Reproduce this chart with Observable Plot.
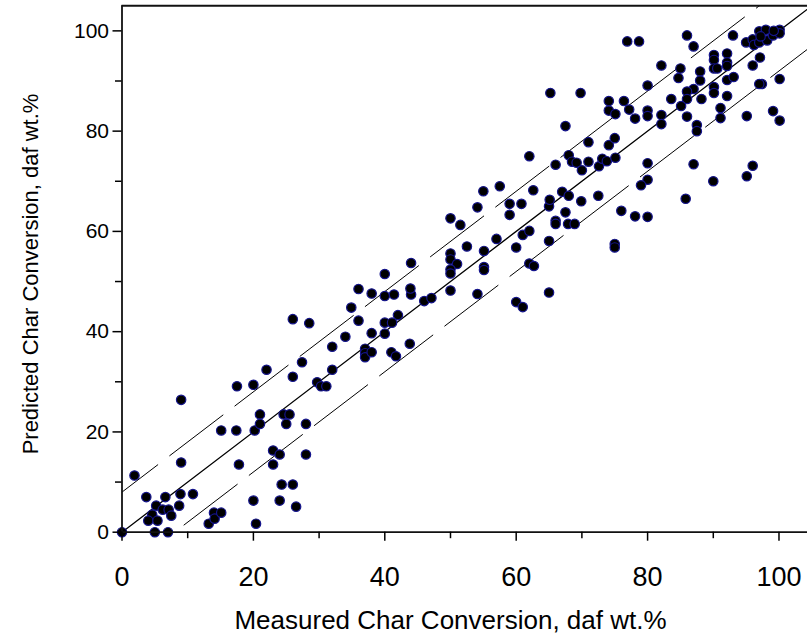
<!DOCTYPE html>
<html>
<head>
<meta charset="utf-8">
<script src="https://cdn.jsdelivr.net/npm/d3@7"></script>
<script src="https://cdn.jsdelivr.net/npm/@observablehq/plot@0.6"></script>
<style>
  html, body { margin: 0; padding: 0; background: #fff; overflow: hidden; }
  #chart svg { display: block; }
</style>
</head>
<body>
<div id="chart"></div>
<script>
// Measured (x) and predicted (y) char conversion, daf wt.%
const measured = [
  0,1.9,3.7,6.6,5.2,6.2,7.1,4.6,4.0,5.4,7.5,8.7,8.9,10.8,5.0,7.0,9.0,9.0,13.2,14.0,14.1,15.1,15.1,17.4,17.5,20.0,17.8,20.2,21.0,21.0,20.0,20.4,23.0,24.0,23.0,24.3,26.0,24.0,26.5,24.6,25.5,25.0,28.0,28.0,29.7,30.3,31.1,
  22.0,26.0,27.4,26.0,28.5,32.0,32.0,34.0,34.9,36.0,36.0,38.0,40.0,41.4,44.0,42.0,40.0,41.1,38.0,40.0,37.0,37.0,37.0,38.0,41.0,41.7,43.8,40.0,44.0,43.9,46.0,47.1,
  50.0,50.0,51.5,54.1,52.5,50.0,50.0,51.0,50.0,50.0,54.1,55.0,57.5,55.1,55.1,55.1,57.0,59.0,60.8,59.0,60.0,61.0,62.0,62.0,62.7,60.0,61.0,62.6,62.0,65.0,65.0,65.0,66.0,66.0,67.5,67.9,68.9,69.9,65.1,67.0,68.0,
  65.2,69.8,67.5,66.0,68.0,68.5,69.2,70.0,71.0,71.0,72.6,73.1,73.8,74.1,75.0,75.1,74.1,74.1,76.4,75.1,77.2,78.1,80.0,80.0,82.1,82.1,80.0,80.0,79.0,76.0,78.1,80.0,75.0,75.0,72.5,
  76.9,78.7,86.0,87.0,93.0,95.0,96.0,96.2,97.0,97.0,98.0,98.2,99.1,100.1,100.1,97.2,99.2,97.1,96.0,90.1,90.1,90.1,90.6,92.1,92.1,92.1,88.0,88.0,85.0,84.7,82.1,80.0,92.1,93.1,90.1,90.1,87.0,86.0,86.0,88.2,83.6,85.1,86.0,92.1,91.1,91.1,87.5,87.5,97.4,97.0,100.1,95.1,99.1,100.1,87.0,90.0,95.1,96.0,85.8
];
const predicted = [
  0,11.3,7.0,7.0,5.3,4.5,4.5,3.5,2.3,2.3,3.3,5.3,7.6,7.6,0,0,26.4,13.9,1.7,3.9,2.7,3.9,20.3,20.3,29.1,29.4,13.5,20.3,23.5,21.6,6.3,1.7,16.3,15.5,13.5,9.5,9.5,6.3,5.1,23.5,23.5,21.6,21.6,15.5,29.9,29.1,29.1,
  32.4,31.0,33.9,42.5,41.7,32.4,37.0,39.0,44.8,48.5,42.2,47.6,47.1,47.4,47.4,43.3,41.8,41.8,39.7,39.6,36.6,35.7,34.9,35.9,35.9,35.1,37.6,51.5,53.7,48.6,46.1,46.7,
  48.2,62.6,61.3,64.8,57.0,55.6,54.4,53.5,52.4,51.6,47.5,68.0,69.0,56.1,52.9,52.3,58.5,65.5,65.5,63.3,56.8,59.3,60.1,53.6,53.1,45.9,44.9,68.2,75.0,65.0,58.1,47.8,62.1,61.5,63.8,61.5,61.5,66.0,66.3,67.9,67.1,
  87.6,87.6,81.0,73.3,75.2,73.9,73.7,72.2,77.8,73.9,73.0,74.5,74.0,77.2,78.6,74.7,86.0,84.1,86.0,83.4,84.3,82.5,84.1,83.0,83.2,81.4,73.6,70.3,69.2,64.1,63.0,62.9,57.5,56.8,67.1,
  97.9,97.9,99.1,96.9,99.1,97.7,98.3,97.2,99.9,97.7,100.2,98.1,99.1,100.2,99.5,98.9,100.0,94.7,93.1,95.2,94.2,92.5,92.5,95.5,93.7,93.0,91.9,90.1,92.5,90.6,93.1,89.1,90.2,90.8,88.8,87.6,88.4,87.9,86.4,86.4,86.4,85.0,82.9,87.0,84.6,82.6,81.2,80.0,89.4,89.4,90.4,83.0,84.0,82.1,73.4,70.0,71.0,73.1,66.5
];
const xMajor = [0, 20, 40, 60, 80, 100];
const xMinor = [10, 30, 50, 70, 90];
const yMajor = [0, 20, 40, 60, 80, 100];
const yMinor = [10, 30, 50, 70, 90];
const lineX = [0, 105];
const band = 8;
const xTitle = "Measured Char Conversion, daf wt.%";
const yTitle = "Predicted Char Conversion, daf wt.%";

const points = measured.map((m, i) => ({m, p: predicted[i]}));
const parity = lineX.map(v => ({x: v, y: v}));
const upper = lineX.map(v => ({x: v, y: v + band}));
const lower = lineX.map(v => ({x: v, y: v - band}));

const font = "'Liberation Sans', Arial, Helvetica, sans-serif";

const chart = Plot.plot({
  width: 807,
  height: 637,
  marginLeft: 121.5,
  marginRight: 0,
  marginTop: 5.3,
  marginBottom: 105.3,
  style: {fontFamily: font, color: "#000", background: "#fff", overflow: "visible"},
  x: {domain: [0, 104.34]},
  y: {domain: [0, 105]},
  marks: [
    Plot.line(parity, {x: "x", y: "y", stroke: "#000", strokeWidth: 1.3, clip: true}),
    Plot.line(upper, {x: "x", y: "y", stroke: "#000", strokeWidth: 1, strokeDasharray: "67,15", strokeDashoffset: 22, clip: true}),
    Plot.line(lower, {x: "x", y: "y", stroke: "#000", strokeWidth: 1, strokeDasharray: "67,15", strokeDashoffset: 4, clip: true}),
    Plot.dot(points, {x: "m", y: "p", r: 4.7, fill: "#000", stroke: "#14148c", strokeWidth: 1.2}),
    Plot.ruleY([105], {stroke: "#111", strokeWidth: 2}),
    Plot.ruleX([0], {stroke: "#111", strokeWidth: 1.8}),
    Plot.ruleY([0], {stroke: "#111", strokeWidth: 1.8}),
    Plot.axisX(xMajor, {tickSize: 9, tickPadding: 26, strokeWidth: 1.5, fontSize: 27, label: null, tickFormat: d => String(d)}),
    Plot.axisX(xMinor, {tickSize: 6.5, strokeWidth: 1.5, label: null, tickFormat: () => ""}),
    Plot.axisY(yMajor, {tickSize: 9, tickPadding: 4, strokeWidth: 1.5, fontSize: 21, label: null, tickFormat: d => String(d)}),
    Plot.axisY(yMinor, {tickSize: 6.5, strokeWidth: 1.5, label: null, tickFormat: () => ""}),
    Plot.text([xTitle], {x: 50, frameAnchor: "bottom", dy: 88, fontSize: 26, textAnchor: "middle", lineAnchor: "middle", fill: "#000"}),
    Plot.text([yTitle], {y: 51.5, frameAnchor: "left", dx: -91.5, rotate: -90, fontSize: 22, textAnchor: "middle", lineAnchor: "middle", fill: "#000"})
  ]
});
document.getElementById("chart").appendChild(chart);
</script>
</body>
</html>
